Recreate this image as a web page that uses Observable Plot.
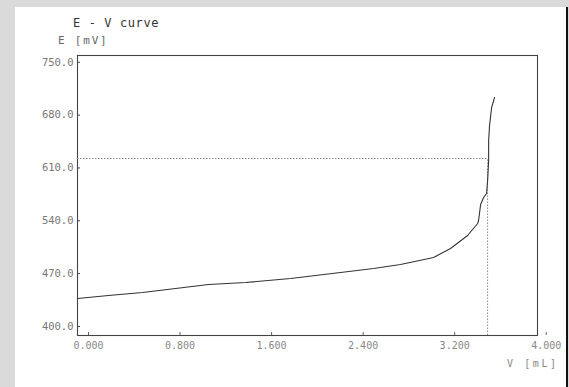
<!DOCTYPE html>
<html>
<head>
<meta charset="utf-8">
<script src="https://cdn.jsdelivr.net/npm/d3@7"></script>
<script src="https://cdn.jsdelivr.net/npm/@observablehq/plot@0.6"></script>
<style>
  html, body { margin: 0; padding: 0; }
  body { width: 569px; height: 387px; background: #dadada; position: relative; overflow: hidden;
         font-family: "DejaVu Sans Mono", "Liberation Mono", monospace; }
  #panel { position: absolute; left: 15px; top: 7px; width: 551px; height: 380px; background: #fff;
           border-right: 2px solid #111; }
  .lbl { position: absolute; white-space: nowrap; }
  #title { left: 58px; top: 9px; font-size: 12px; color: #333; letter-spacing: 0.6px; }
  #ylab { left: 43px; top: 27px; font-size: 11px; color: #666; letter-spacing: 1.8px; }
  #xlab { left: 492px; top: 351px; font-size: 10px; color: #888; letter-spacing: 2.6px; }
  #chart { position: absolute; left: 0; top: 0; }
</style>
</head>
<body>
<div id="panel">
  <div id="title" class="lbl">E - V curve</div>
  <div id="ylab" class="lbl">E [mV]</div>
  <div id="xlab" class="lbl">V [mL]</div>
  <div id="chart"></div>
</div>
<script>
// Titration curve
const volume = [0.000, 0.271, 0.568, 0.857, 1.145, 1.469, 1.862, 2.299, 2.587, 2.823, 3.112, 3.260, 3.409, 3.497, 3.505, 3.523, 3.549, 3.575, 3.584, 3.593, 3.593, 3.601, 3.619, 3.645];
const potential = [437.0, 441.0, 445.0, 450.3, 455.6, 458.2, 463.5, 471.5, 476.8, 482.1, 491.4, 503.3, 520.5, 536.4, 540.4, 561.6, 570.8, 576.2, 593.4, 619.9, 646.4, 666.3, 690.1, 703.4];

// Equivalence point marker
const eqVolume = [3.584];
const eqPotential = [622.5];

const xTicks = [0, 0.8, 1.6, 2.4, 3.2, 4.0];
const yTicks = [400, 470, 540, 610, 680, 750];
const xDomain = [0, 4.02];
const yDomain = [388, 759];

const curve = volume.map((v, i) => ({v, e: potential[i]}));
const hLine = [{v1: xDomain[0], v2: eqVolume[0], e: eqPotential[0]}];
const vLine = [{v: eqVolume[0], e1: yDomain[0], e2: eqPotential[0]}];

const chart = Plot.plot({
  width: 551,
  height: 380,
  marginLeft: 62,
  marginRight: 29,
  marginTop: 48,
  marginBottom: 52,
  style: {fontFamily: "DejaVu Sans Mono, monospace", fontSize: "10px", color: "#777", background: "transparent", overflow: "visible"},
  x: {domain: xDomain},
  y: {domain: yDomain},
  marks: [
    Plot.frame({stroke: "#444", strokeWidth: 1.1}),
    Plot.axisX(xTicks, {tickSize: -3, tickPadding: 9, dx: 11, fill: "#888", stroke: "#666", tickFormat: d => d.toFixed(3), label: null, fontSize: 10, letterSpacing: "2.2px"}),
    Plot.axisY(yTicks, {tickSize: -3, tickPadding: 7, fill: "#777", stroke: "#444", tickFormat: d => d.toFixed(1), label: null, fontSize: 10.5, letterSpacing: "2.6px"}),
    Plot.ruleY(hLine, {x1: "v1", x2: "v2", y: "e", stroke: "#888", strokeWidth: 1, strokeDasharray: "1.5,1.5"}),
    Plot.ruleX(vLine, {x: "v", y1: "e1", y2: "e2", stroke: "#888", strokeWidth: 1, strokeDasharray: "1.5,1.5"}),
    Plot.line(curve, {x: "v", y: "e", stroke: "#333", strokeWidth: 1.1, curve: "linear"})
  ]
});
document.getElementById("chart").appendChild(chart);
</script>
</body>
</html>
